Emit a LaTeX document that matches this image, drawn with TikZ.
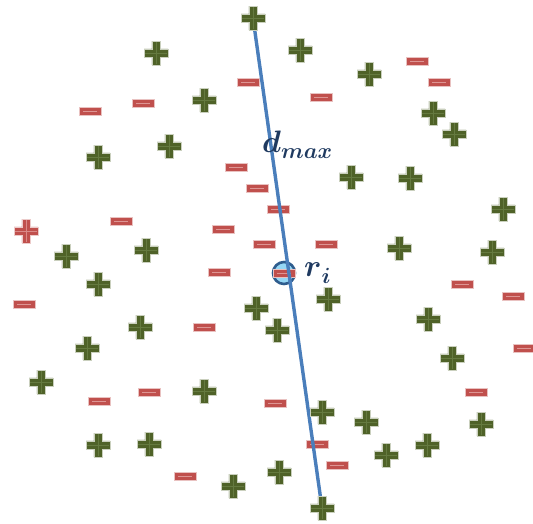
\documentclass[tikz,border=0pt]{standalone}
\usepackage{fix-cm}
\usepackage{bm}
\definecolor{pgreen}{HTML}{4F6228}
\definecolor{pgreenl}{HTML}{657A40}
\definecolor{pred}{HTML}{C0504D}
\definecolor{predl}{HTML}{DA8A88}
\definecolor{mred}{HTML}{C0504D}
\definecolor{mredl}{HTML}{DE9593}
\definecolor{lineblue}{HTML}{4A7EBB}
\definecolor{navy}{HTML}{1F3A60}
\definecolor{cfill}{HTML}{95D7F5}
\definecolor{cedge}{HTML}{2F5D8E}
\tikzset{
  xplus/.style 2 args={rectangle, minimum size=26pt, inner sep=0pt, outer sep=0pt,
    path picture={
      \begin{scope}[shift={(path picture bounding box.center)}]
        \filldraw[fill=#1, draw=#1!30!white, line width=0.6pt]
          (-12,-4.2) -- (-4.2,-4.2) -- (-4.2,-12) -- (4.2,-12) -- (4.2,-4.2) -- (12,-4.2)
          -- (12,4.2) -- (4.2,4.2) -- (4.2,12) -- (-4.2,12) -- (-4.2,4.2) -- (-12,4.2) -- cycle;
        \draw[#2, line width=0.6pt] (-11,0) -- (11,0) (0,-11) -- (0,11);
      \end{scope}
    }},
  gplus/.style={xplus={pgreen}{pgreenl}},
  rplus/.style={xplus={pred}{predl}},
  minus/.style={rectangle, minimum width=22pt, minimum height=8pt, inner sep=0pt,
    fill=mred, draw=mred!35!white, line width=0.5pt,
    path picture={\draw[mredl, line width=1pt]
      ([xshift=-7pt]path picture bounding box.center) --
      ([xshift=7pt]path picture bounding box.center);}},
  diam/.style={line width=3.4pt, draw=lineblue},
  mark circle/.style={circle, minimum size=22pt, inner sep=0pt, fill=cfill, draw=cedge, line width=2.6pt},
  lbl/.style={inner sep=0pt, text=navy}
}
\begin{document}
\begin{tikzpicture}[x=1pt, y=-1pt]
\useasboundingbox (0,0) rectangle (533,523);
% minus signs
\foreach \x/\y [count=\i] in {248/82, 417/61, 439/82, 321/97, 90/111, 143/103,
  236/167, 257/188, 278/209, 121/221, 223/229, 264/244, 326/244, 219/272,
  24/304, 462/284, 513/296, 204/327, 524/348, 99/401, 149/392, 275/403,
  476/392, 317/444, 337/465, 185/476}
  \node[minus] (m\i) at (\x,\y) {};
% the point r_i
\node[mark circle] (ri) at (284,273) {};
\node[minus] (mri) at (ri.center) {};
% diameter line
\coordinate (ptop) at (253,18);
\coordinate (pbot) at (322,508);
\draw[diam] (ptop) -- (pbot);
% plus signs
\node[gplus] (ptopsign) at (ptop) {};
\node[gplus] (pbotsign) at (pbot) {};
\foreach \x/\y [count=\i] in {156/53, 300/50, 369/74, 204/100, 433/113, 454/134,
  98/157, 169/146, 351/177, 410/178, 503/209, 66/256, 146/250, 399/248,
  492/252, 98/284, 256/308, 328/299, 277/330, 140/327, 87/348, 428/319,
  452/358, 41/382, 204/391, 322/412, 366/422, 481/424, 98/445, 149/444,
  386/455, 427/445, 279/472, 233/486}
  \node[gplus] (p\i) at (\x,\y) {};
\node[rplus] (rp) at (26,231) {};
% labels
\node[lbl, anchor=base west] (dmax) at (262,152)
  {{\fontsize{31}{31}\selectfont$\bm{d}$}\raisebox{-6pt}{\fontsize{22}{22}\selectfont$\bm{max}$}};
\node[lbl, anchor=base west] (rlabel) at (304,276)
  {{\fontsize{31}{31}\selectfont$\bm{r}$}\raisebox{-7pt}{\fontsize{22}{22}\selectfont$\bm{i}$}};
\end{tikzpicture}
\end{document}
